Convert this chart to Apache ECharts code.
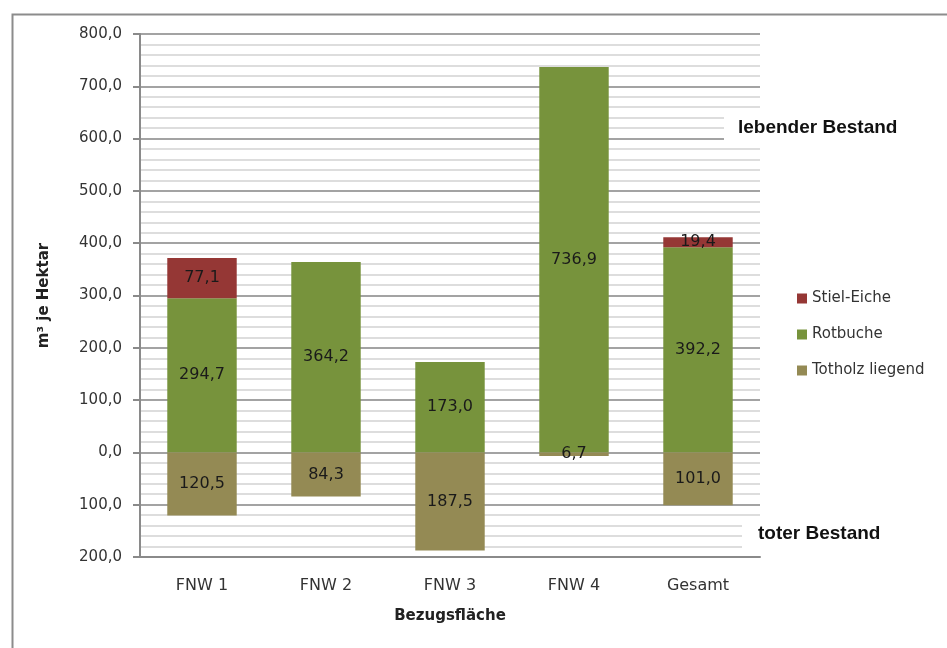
<!DOCTYPE html>
<html>
<head>
<meta charset="utf-8">
<title>Holzvorrat je Hektar</title>
<script src="https://cdn.jsdelivr.net/npm/echarts@6/dist/echarts.min.js"></script>
<style>
  html, body { margin: 0; padding: 0; background: #fff; }
  #chart { width: 947px; height: 648px; }
</style>
</head>
<body>
<div id="chart"></div>
<script>
// Daten (m³ je Hektar), Totholz nach unten negativ
const categories = ['FNW 1', 'FNW 2', 'FNW 3', 'FNW 4', 'Gesamt']
const stielEiche = [77.1, 0, 0, 0, 19.4]
const rotbuche = [294.7, 364.2, 173.0, 736.9, 392.2]
const totholz = [-120.5, -84.3, -187.5, -6.7, -101.0]

const fmt = v => Math.abs(v).toFixed(1).replace('.', ',')

const myChart = echarts.init(document.getElementById('chart'))

const barLabel = {
  show: true,
  position: 'inside',
  color: '#1a1a1a',
  fontFamily: 'DejaVu Sans',
  fontSize: 16,
  formatter: p => (p.value === 0 ? '' : fmt(p.value))
}

let option = {
  animation: false,
  grid: {
    left: 140,
    right: 187,
    top: 34,
    bottom: 91
  },
  legend: {
    orient: 'vertical',
    left: 792,
    top: 286,
    itemWidth: 10,
    itemHeight: 10,
    itemGap: 21,
    icon: 'rect',
    textStyle: { fontFamily: 'DejaVu Sans', fontSize: 15, color: '#333' },
    data: ['Stiel-Eiche', 'Rotbuche', 'Totholz liegend']
  },
  xAxis: {
    type: 'category',
    data: categories,
    name: 'Bezugsfläche',
    nameLocation: 'middle',
    nameGap: 52,
    nameTextStyle: { fontFamily: 'DejaVu Sans', fontWeight: 'bold', fontSize: 15, color: '#222' },
    axisLine: { onZero: false, lineStyle: { color: '#8a8a8a', width: 2 } },
    axisTick: { show: false },
    axisLabel: { margin: 21, fontFamily: 'DejaVu Sans', fontSize: 16, color: '#333' }
  },
  yAxis: {
    type: 'value',
    min: -200,
    max: 800,
    interval: 100,
    name: 'm³ je Hektar',
    nameLocation: 'middle',
    nameGap: 88,
    nameTextStyle: { fontFamily: 'DejaVu Sans', fontWeight: 'bold', fontSize: 15, color: '#222' },
    axisLine: { show: true, lineStyle: { color: '#8a8a8a', width: 2 } },
    axisTick: { show: true, length: 7, lineStyle: { color: '#8a8a8a', width: 2 } },
    axisLabel: { margin: 18, fontFamily: 'DejaVu Sans', fontSize: 15, color: '#333', formatter: fmt },
    splitLine: { lineStyle: { color: '#a3a3a3', width: 2 } },
    minorTick: { show: false, splitNumber: 5 },
    minorSplitLine: { show: true, lineStyle: { color: '#d2d2d2', width: 1.5 } }
  },
  // Rotbuche unten, Stiel-Eiche oben drauf
  series: [
    {
      name: 'Rotbuche',
      type: 'bar',
      stack: 'vorrat',
      barWidth: '56%',
      itemStyle: { color: '#77933c' },
      data: rotbuche,
      label: barLabel
    },
    {
      name: 'Stiel-Eiche',
      type: 'bar',
      stack: 'vorrat',
      itemStyle: { color: '#953735' },
      data: stielEiche,
      label: barLabel
    },
    {
      name: 'Totholz liegend',
      type: 'bar',
      stack: 'vorrat',
      itemStyle: { color: '#948a54' },
      data: totholz,
      label: barLabel
    }
  ],
  graphic: [
    {
      type: 'rect',
      left: 10,
      top: 12,
      shape: { width: 960, height: 660 },
      style: { fill: 'none', stroke: '#8c8c8c', lineWidth: 2 },
      silent: true
    },
    {
      type: 'group',
      left: 724,
      top: 110,
      z: 100,
      children: [
        { type: 'rect', shape: { x: 0, y: 0, width: 200, height: 36 }, style: { fill: '#fff' }, z: 100 },
        { type: 'text', x: 14, y: 8, z: 101, style: { text: 'lebender Bestand', font: 'bold 19px "Liberation Sans"', fill: '#111' } }
      ]
    },
    {
      type: 'group',
      left: 742,
      top: 516,
      z: 100,
      children: [
        { type: 'rect', shape: { x: 0, y: 0, width: 170, height: 36 }, style: { fill: '#fff' }, z: 100 },
        { type: 'text', x: 16, y: 8, z: 101, style: { text: 'toter Bestand', font: 'bold 19px "Liberation Sans"', fill: '#111' } }
      ]
    }
  ]
}

myChart.setOption(option)
window.addEventListener('resize', function () {
  myChart.resize()
})
</script>
</body>
</html>
